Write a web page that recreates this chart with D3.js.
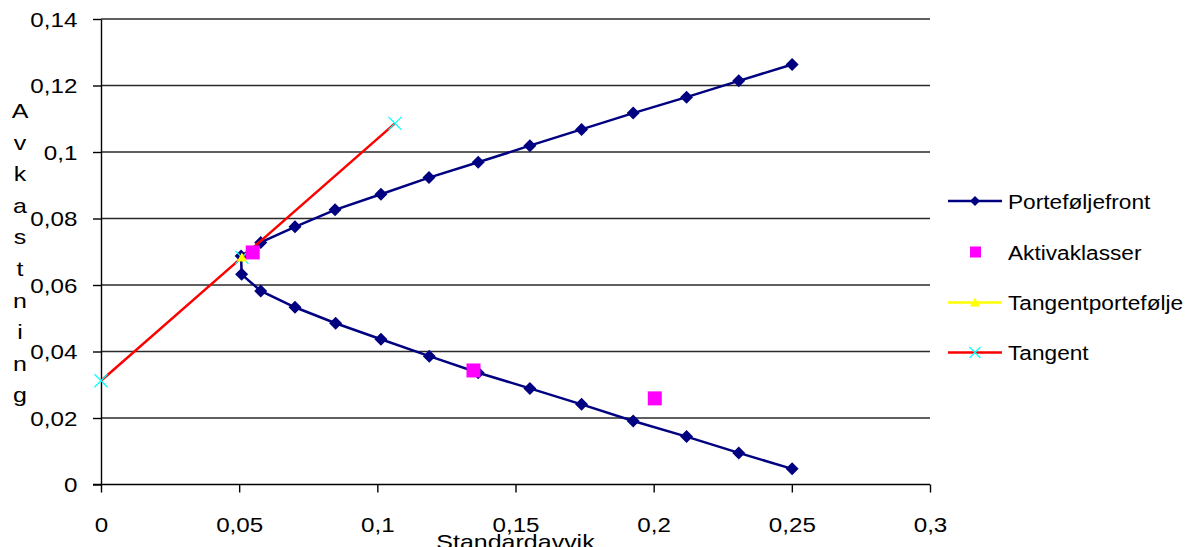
<!DOCTYPE html>
<html>
<head>
<meta charset="utf-8">
<script src="https://cdn.jsdelivr.net/npm/d3@7"></script>
<style>
  html, body { margin: 0; padding: 0; background: #fff; }
  svg { display: block; font-family: "Liberation Sans", Arial, sans-serif; }
</style>
</head>
<body>
<svg id="chart" width="1196" height="547"></svg>
<script>
// Efficient frontier (standard deviation, return), lower branch then upper branch
const frontSd  = [0.2501, 0.2308, 0.2119, 0.1926, 0.1739, 0.1552, 0.1365, 0.1188, 0.1013, 0.0849, 0.0702, 0.0578, 0.0509,
                  0.0507, 0.0578, 0.0702, 0.0847, 0.1013, 0.1187, 0.1365, 0.1552, 0.1739, 0.1926, 0.2119, 0.2308, 0.2501];
const frontRet = [0.0047, 0.0095, 0.0144, 0.0191, 0.0241, 0.0289, 0.0336, 0.0386, 0.0437, 0.0485, 0.0533, 0.0582, 0.0632,
                  0.0687, 0.0728, 0.0775, 0.0826, 0.0873, 0.0923, 0.0969, 0.1019, 0.1068, 0.1117, 0.1165, 0.1214, 0.1263];

// Asset classes
const assetSd  = [0.0549, 0.1348, 0.2004];
const assetRet = [0.0698, 0.0343, 0.0259];

// Tangency portfolio
const tangPortSd  = [0.0510];
const tangPortRet = [0.0683];

// Tangent line (risk-free rate through the tangency portfolio)
const tangentSd  = [0, 0.0510, 0.1064];
const tangentRet = [0.0312, 0.0683, 0.1086];

const xTicks = [0, 0.05, 0.1, 0.15, 0.2, 0.25, 0.3];
const yTicks = [0, 0.02, 0.04, 0.06, 0.08, 0.1, 0.12, 0.14];

const legendItems = ["Porteføljefront", "Aktivaklasser", "Tangentportefølje", "Tangent"];
const xTitle = "Standardavvik";
const yTitle = "Avkastning";

const svg = d3.select("#chart");
const x = d3.scaleLinear().domain([0, 0.3]).range([101, 930]);
const y = d3.scaleLinear().domain([0, 0.14]).range([484.5, 19]);

const nb = d3.formatLocale({ decimal: ",", thousands: " ", grouping: [3], currency: ["", " kr"] });
const fmt = nb.format("~g");

const zip = (a, b) => a.map((v, i) => [v, b[i]]);

// horizontal gridlines
svg.append("g")
  .selectAll("line").data(yTicks.filter(d => d > 0)).join("line")
  .attr("x1", x(0)).attr("x2", x(0.3))
  .attr("y1", d => y(d)).attr("y2", d => y(d))
  .attr("stroke", "#2a2a2a").attr("stroke-width", 1.4);

// y axis
const yAxis = svg.append("g").attr("transform", `translate(${x(0)},0)`)
  .call(d3.axisLeft(y).tickValues(yTicks).tickFormat(fmt).tickSize(8).tickSizeOuter(0));
yAxis.select(".domain").attr("stroke", "#000").attr("stroke-width", 1.4);
yAxis.selectAll(".tick line").attr("stroke", "#000").attr("stroke-width", 1.4);
yAxis.selectAll(".tick text")
  .attr("x", -20).attr("dy", "0.35em")
  .attr("font-size", 20.5).attr("fill", "#000")
  .attr("transform", "scale(1.18,1)");

// x axis
const xAxis = svg.append("g").attr("transform", `translate(0,${y(0)})`)
  .call(d3.axisBottom(x).tickValues(xTicks).tickFormat(fmt).tickSize(8).tickSizeOuter(0));
xAxis.select(".domain").attr("stroke", "#000").attr("stroke-width", 1.4)
  .attr("d", `M${x(0) - 8},0H${x(0.3)}`);
xAxis.selectAll(".tick line").attr("stroke", "#000").attr("stroke-width", 1.4);
xAxis.selectAll(".tick text")
  .attr("y", 47.5).attr("dy", 0)
  .attr("font-size", 20.5).attr("fill", "#000")
  .attr("transform", "scale(1.18,1)");

// axis titles
svg.append("text")
  .attr("transform", `translate(${(x(0) + x(0.3)) / 2},549) scale(1.19,1)`)
  .attr("text-anchor", "middle").attr("font-size", 21).text(xTitle);

svg.append("g").selectAll("text").data(yTitle.split("")).join("text")
  .attr("transform", (d, i) => `translate(20,${118 + i * 31.6}) scale(1.19,1)`)
  .attr("text-anchor", "middle").attr("font-size", 21).text(d => d);

// marker shapes
const diamond = r => `M0,${-r}L${r},0L0,${r}L${-r},0Z`;
const triangle = r => `M0,${-r}L${r},${r * 0.8}L${-r},${r * 0.8}Z`;
const cross = r => `M${-r},${-r}L${r},${r}M${-r},${r}L${r},${-r}`;

const line = d3.line().x(d => x(d[0])).y(d => y(d[1]));

// efficient frontier
const front = zip(frontSd, frontRet);
svg.append("path").datum(front).attr("d", line)
  .attr("fill", "none").attr("stroke", "#000080").attr("stroke-width", 2.5);
svg.append("g").selectAll("path").data(front).join("path")
  .attr("transform", d => `translate(${x(d[0])},${y(d[1])})`)
  .attr("d", diamond(6.5)).attr("fill", "#000080");

// tangent line
const tangent = zip(tangentSd, tangentRet);
svg.append("path").datum(tangent).attr("d", line)
  .attr("fill", "none").attr("stroke", "#ff0000").attr("stroke-width", 2.5);
svg.append("g").selectAll("path").data(tangent).join("path")
  .attr("transform", d => `translate(${x(d[0])},${y(d[1])})`)
  .attr("d", cross(6.5)).attr("fill", "none").attr("stroke", "#00ffff").attr("stroke-width", 1.2);

// tangency portfolio
svg.append("g").selectAll("path").data(zip(tangPortSd, tangPortRet)).join("path")
  .attr("transform", d => `translate(${x(d[0])},${y(d[1])})`)
  .attr("d", triangle(5)).attr("fill", "#ffff00");

// asset classes
svg.append("g").selectAll("rect").data(zip(assetSd, assetRet)).join("rect")
  .attr("x", d => x(d[0]) - 7).attr("y", d => y(d[1]) - 7)
  .attr("width", 14).attr("height", 14).attr("fill", "#ff00ff");

// legend
const legendY = [201, 252, 302.5, 352.5];
const lg = svg.append("g");
legendItems.forEach((name, i) => {
  const g = lg.append("g").attr("transform", `translate(948,${legendY[i]})`);
  if (i === 0) {
    g.append("line").attr("x1", 0).attr("x2", 54).attr("stroke", "#000080").attr("stroke-width", 2.5);
    g.append("path").attr("transform", "translate(27,0)").attr("d", diamond(5)).attr("fill", "#000080");
  } else if (i === 1) {
    g.append("rect").attr("x", 22).attr("y", -5.5).attr("width", 11).attr("height", 11).attr("fill", "#ff00ff");
  } else if (i === 2) {
    g.append("line").attr("x1", 0).attr("x2", 54).attr("stroke", "#ffff00").attr("stroke-width", 2.5);
    g.append("path").attr("transform", "translate(27,0)").attr("d", triangle(5)).attr("fill", "#ffff00");
  } else {
    g.append("line").attr("x1", 0).attr("x2", 54).attr("stroke", "#ff0000").attr("stroke-width", 2.5);
    g.append("path").attr("transform", "translate(27,0)").attr("d", cross(5.5))
      .attr("fill", "none").attr("stroke", "#00ffff").attr("stroke-width", 1.2);
  }
  g.append("text").attr("transform", "translate(60,7.5) scale(1.08,1)")
    .attr("font-size", 21).attr("fill", "#000").text(name);
});
</script>
</body>
</html>
